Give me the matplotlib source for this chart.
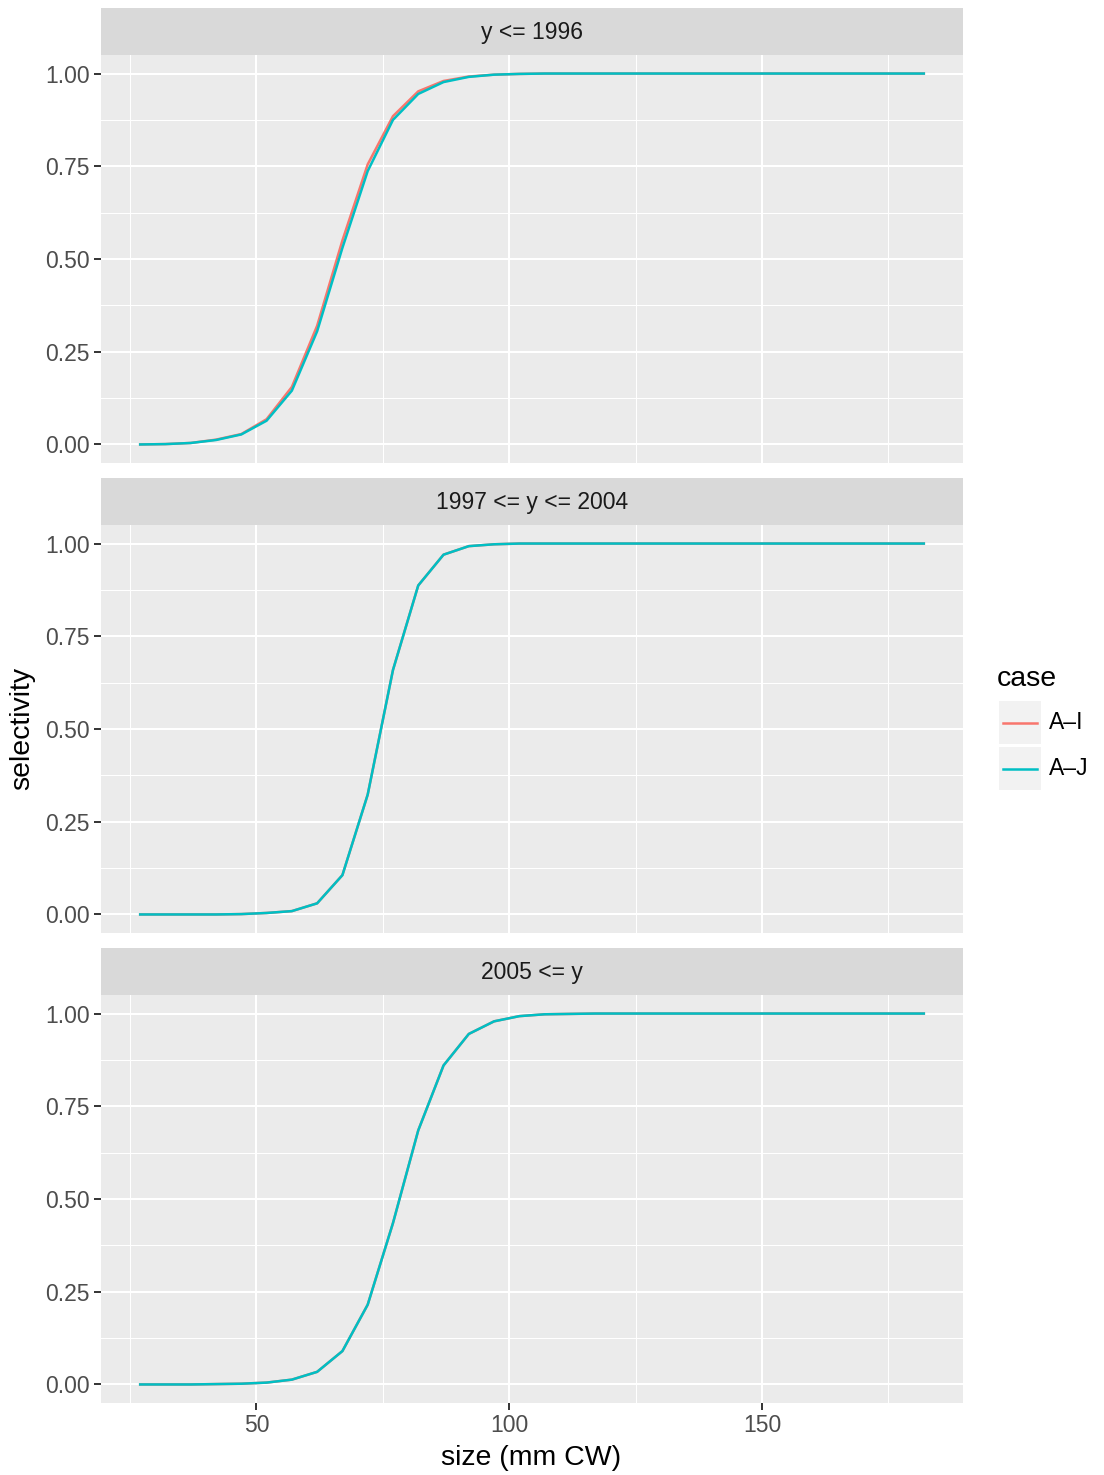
import matplotlib.pyplot as plt
import numpy as np

plt.rcParams['font.family'] = ['Liberation Sans', 'DejaVu Sans']

size = np.arange(27, 183, 5.0)

periods = ['y <= 1996', '1997 <= y <= 2004', '2005 <= y']
cases = ['A\u2013I', 'A\u2013J']
colors = ['#F8766D', '#00BFC4']

p1_ai = [0.0, 0.001, 0.004, 0.013, 0.028, 0.068, 0.155, 0.32, 0.55, 0.755,
         0.885, 0.952, 0.980, 0.992, 0.997, 0.999]
p1_aj = [0.0, 0.001, 0.004, 0.012, 0.027, 0.064, 0.145, 0.305, 0.53, 0.737,
         0.875, 0.945, 0.977, 0.991, 0.997, 0.999]
p2_ai = [0.0, 0.0, 0.0, 0.0, 0.001, 0.004, 0.009, 0.030, 0.106, 0.323,
         0.659, 0.887, 0.970, 0.993, 0.998, 1.0]
p2_aj = [0.0, 0.0, 0.0, 0.0, 0.001, 0.004, 0.009, 0.030, 0.106, 0.323,
         0.659, 0.887, 0.970, 0.993, 0.998, 1.0]
p3_ai = [0.0, 0.0, 0.0, 0.001, 0.002, 0.005, 0.013, 0.034, 0.090, 0.215,
         0.435, 0.685, 0.860, 0.945, 0.979, 0.993, 0.998, 0.999]
p3_aj = [0.0, 0.0, 0.0, 0.001, 0.002, 0.005, 0.013, 0.034, 0.090, 0.215,
         0.435, 0.685, 0.860, 0.945, 0.979, 0.993, 0.998, 0.999]


def pad(vals):
    return np.array(vals + [1.0] * (len(size) - len(vals)))


series = [(p1_ai, p1_aj), (p2_ai, p2_aj), (p3_ai, p3_aj)]

W, H = 1104, 1475
fig = plt.figure(figsize=(W / 100, H / 100), dpi=100)
fig.patch.set_facecolor('white')


def box(x0, y0, x1, y1):
    return [x0 / W, 1 - y1 / H, (x1 - x0) / W, (y1 - y0) / H]


panel_tops = [8, 478, 948]
for i, top in enumerate(panel_tops):
    strip = fig.add_axes(box(101, top, 963, top + 47))
    strip.set_facecolor('#D9D9D9')
    strip.set_xticks([])
    strip.set_yticks([])
    for s in strip.spines.values():
        s.set_visible(False)
    strip.text(0.5, 0.47, periods[i], ha='center', va='center',
               fontsize=16.5, color='#1A1A1A', transform=strip.transAxes)

    ax = fig.add_axes(box(101, top + 47, 963, top + 455))
    ax.set_facecolor('#EBEBEB')
    ax.set_xlim(19.25, 189.75)
    ax.set_ylim(-0.05, 1.05)
    ax.set_xticks([50, 100, 150])
    ax.set_xticks([25, 75, 125, 175], minor=True)
    ax.set_yticks([0, 0.25, 0.5, 0.75, 1.0])
    ax.set_yticks([0.125, 0.375, 0.625, 0.875], minor=True)
    ax.set_yticklabels(['0.00', '0.25', '0.50', '0.75', '1.00'])
    ax.grid(True, which='major', color='white', linewidth=1.5)
    ax.grid(True, which='minor', color='white', linewidth=0.75)
    ax.set_axisbelow(True)
    for s in ax.spines.values():
        s.set_visible(False)
    ax.tick_params(which='major', length=5, width=1.4, color='#333333',
                   labelsize=16.5, labelcolor='#4D4D4D', pad=3)
    ax.tick_params(which='minor', length=0)
    if i < 2:
        ax.tick_params(axis='x', which='major', length=0, labelbottom=False)
    for j, vals in enumerate(series[i]):
        ax.plot(size, pad(vals), color=colors[j], linewidth=1.8,
                label=cases[j])

fig.text(531 / W, 1 - 1458 / H, 'size (mm CW)', ha='center', va='center',
         fontsize=20.5)
fig.text(22 / W, 1 - 728 / H, 'selectivity', rotation=90, ha='center',
         va='center', fontsize=20.5)

# legend
fig.text(997 / W, 1 - 679 / H, 'case', ha='left', va='center', fontsize=20.5)
for j, name in enumerate(cases):
    y0 = 701 + j * 46
    kax = fig.add_axes(box(999, y0, 1041, y0 + 43))
    kax.set_facecolor('#F2F2F2')
    kax.set_xlim(0, 1)
    kax.set_ylim(0, 1)
    kax.plot([0.1, 0.9], [0.5, 0.5], color=colors[j], linewidth=1.8)
    kax.set_xticks([])
    kax.set_yticks([])
    for s in kax.spines.values():
        s.set_visible(False)
    fig.text(1049 / W, 1 - (y0 + 21.5) / H, name, ha='left', va='center',
             fontsize=16.5)

fig.savefig('out.png', dpi=100)
